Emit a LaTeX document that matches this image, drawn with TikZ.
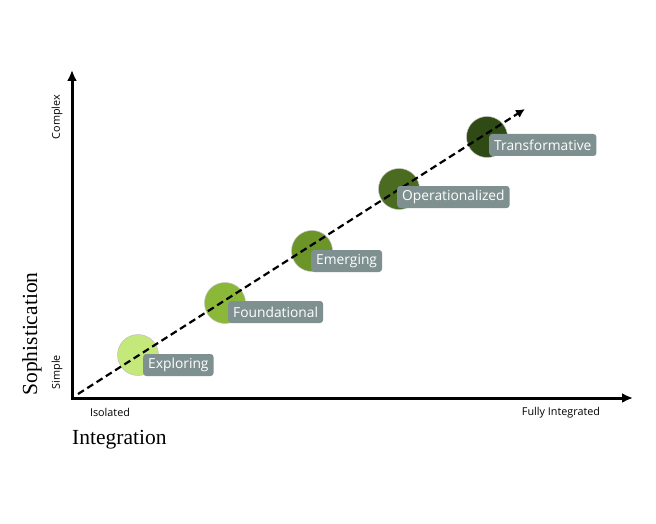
\documentclass[tikz,border=0pt]{standalone}
\usepackage{fontspec}
\setsansfont{Open Sans}
\newfontfamily\titlefont{Liberation Serif}
\usetikzlibrary{arrows.meta}
\definecolor{lab}{HTML}{7F9090}
\begin{document}
\begin{tikzpicture}[x=1pt,y=-1pt,
  stage/.style={circle,minimum size=41pt,inner sep=0pt,draw=black!25,line width=0.5pt},
  tag/.style={fill=lab,rounded corners=3pt,text=white,font=\sffamily\fontsize{13.8}{16}\selectfont,inner xsep=5pt,inner ysep=3pt,anchor=west,minimum height=22pt},
  small/.style={font=\sffamily\fontsize{10.8}{12}\selectfont},
  axtitle/.style={font=\titlefont\fontsize{21.5}{24}\selectfont}]
\useasboundingbox (0,0) rectangle (656,524);
\coordinate (o) at (72,398);
\coordinate (ytop) at (72,70);
\coordinate (xend) at (633,398);
\draw[line width=3pt,-{Latex[length=11pt,width=10pt]}] (72,399.5) -- (ytop);
\draw[line width=3pt,-{Latex[length=11pt,width=10pt]}] (70.5,398) -- (xend);
\coordinate (ds) at (78,394);
\coordinate (de) at (525,109);
\node[stage,fill={rgb,255:red,197;green,232;blue,122}] (c1) at (138,355) {};
\node[stage,fill={rgb,255:red,140;green,184;blue,58}] (c2) at (225,303) {};
\node[stage,fill={rgb,255:red,107;green,148;blue,41}] (c3) at (312,251) {};
\node[stage,fill={rgb,255:red,74;green,107;blue,32}] (c4) at (399,189) {};
\node[stage,fill={rgb,255:red,47;green,74;blue,20}] (c5) at (487,137) {};
\draw[line width=2.2pt,dash pattern=on 7pt off 4pt,-{Latex[length=9pt,width=9pt]}] (ds) -- (de);
\node[tag] (t1) at (143,365) {Exploring};
\node[tag] (t2) at (228,312) {Foundational};
\node[tag] (t3) at (311,261) {Emerging};
\node[tag] (t4) at (397,197) {Operationalized};
\node[tag] (t5) at (489,145) {Transformative};
\node[small,rotate=90] (cx) at (57,117) {Complex};
\node[small,rotate=90] (sp) at (57,372) {Simple};
\node[rotate=90,axtitle] (so) at (32,334) {Sophistication};
\node[small] (is) at (110,412) {Isolated};
\node[small] (fi) at (561,413) {Fully Integrated};
\node[axtitle,anchor=west,inner sep=0pt] (in) at (72,440) {Integration};
\end{tikzpicture}
\end{document}
